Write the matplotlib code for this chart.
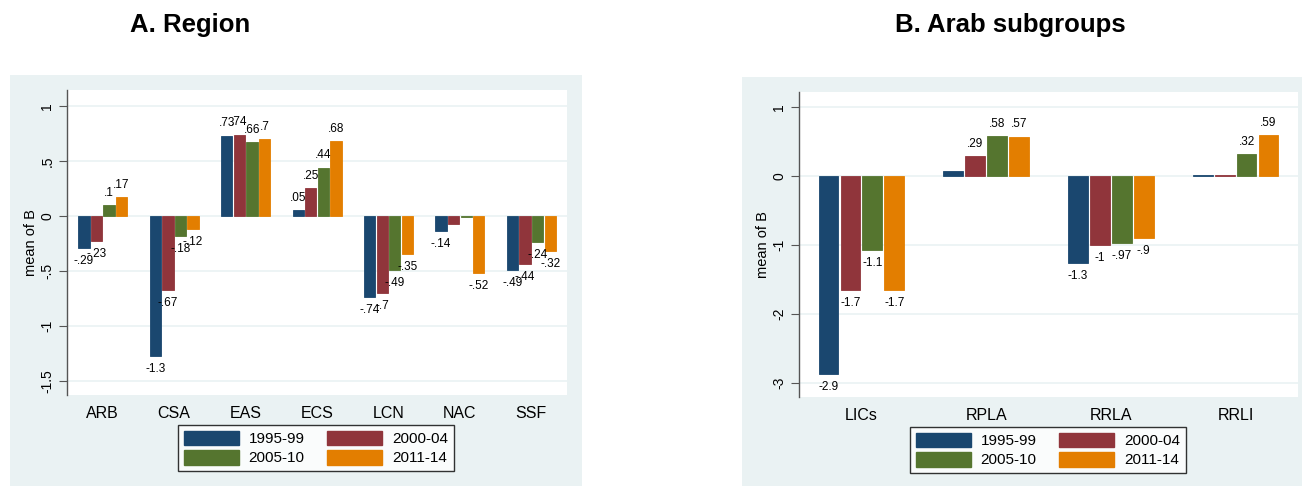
import matplotlib
matplotlib.use("Agg")
import matplotlib.pyplot as plt
from matplotlib.patches import Rectangle, Patch
import numpy as np

plt.rcParams['font.family'] = ['Liberation Sans', 'DejaVu Sans']

# data
periods = ["1995-99", "2000-04", "2005-10", "2011-14"]
colors = ["#1a476f", "#90353b", "#55752f", "#e37e00"]

region_cats = ["ARB", "CSA", "EAS", "ECS", "LCN", "NAC", "SSF"]
region_vals = [
    [-0.29, -1.27, 0.73, 0.055, -0.74, -0.14, -0.49],   # 1995-99
    [-0.23, -0.67, 0.74, 0.25, -0.70, -0.07, -0.44],    # 2000-04
    [0.10, -0.18, 0.67, 0.44, -0.49, -0.005, -0.24],    # 2005-10
    [0.17, -0.12, 0.70, 0.68, -0.35, -0.52, -0.32],     # 2011-14
]
region_labels = [
    ["-.29", "-1.3", ".73", ".05", "-.74", "-.14", "-.49"],
    ["-.23", "-.67", ".74", ".25", "-.7", "", "-.44"],
    [".1", "-.18", ".66", ".44", "-.49", "", "-.24"],
    [".17", "-.12", ".7", ".68", "-.35", "-.52", "-.32"],
]
region_ticks = [1, 0.5, 0, -0.5, -1, -1.5]
region_ticklabels = ["1", ".5", "0", "-.5", "-1", "-1.5"]

arab_cats = ["LICs", "RPLA", "RRLA", "RRLI"]
arab_vals = [
    [-2.87, 0.07, -1.26, 0.02],
    [-1.65, 0.29, -1.00, 0.02],
    [-1.07, 0.58, -0.97, 0.32],
    [-1.65, 0.57, -0.90, 0.59],
]
arab_labels = [
    ["-2.9", "", "-1.3", ""],
    ["-1.7", ".29", "-1", ""],
    ["-1.1", ".58", "-.97", ".32"],
    ["-1.7", ".57", "-.9", ".59"],
]
arab_ticks = [1, 0, -1, -2, -3]
arab_ticklabels = ["1", "0", "-1", "-2", "-3"]

W, H = 1306, 488
bg = "#eaf2f3"

fig = plt.figure(figsize=(W / 100, H / 100), dpi=100)


def px_rect(x0, y0, x1, y1):
    return [x0 / W, 1 - y1 / H, (x1 - x0) / W, (y1 - y0) / H]


# grey graph regions
for (x0, y0, x1, y1) in [(10, 75, 582, 486), (742, 77, 1302, 486)]:
    r = px_rect(x0, y0, x1, y1)
    fig.patches.append(Rectangle((r[0], r[1]), r[2], r[3], transform=fig.transFigure,
                                 facecolor=bg, edgecolor="none", zorder=-5))


def draw_panel(rect, cats, vals, labels, ticks, ticklabels, ylim, title, title_x, leg_center):
    ax = fig.add_axes(px_rect(*rect))
    ax.set_zorder(1)
    ax.set_facecolor("white")
    n = len(cats)
    x = np.arange(n)
    step = 0.176
    width = 0.158
    for i in range(4):
        xs = x + (i - 1.5) * step
        ax.bar(xs, vals[i], width=width, color=colors[i], edgecolor=colors[i],
               linewidth=0.6, zorder=3)
        for xx, v, lab in zip(xs, vals[i], labels[i]):
            if not lab:
                continue
            if v >= 0:
                ax.annotate(lab, (xx, v), xytext=(0, 4.5), textcoords="offset points",
                            ha="center", va="bottom", fontsize=8.5, zorder=4)
            else:
                ax.annotate(lab, (xx, v), xytext=(0, -5), textcoords="offset points",
                            ha="center", va="top", fontsize=8.5, zorder=4)
    ax.set_xlim(-0.5, n - 0.5)
    ax.set_ylim(*ylim)
    ax.set_xticks(x)
    ax.set_xticklabels(cats, fontsize=11.5)
    ax.tick_params(axis="x", length=0, pad=8)
    ax.set_yticks(ticks)
    ax.set_yticklabels(ticklabels, rotation=90, va="center", fontsize=10)
    ax.tick_params(axis="y", length=6, color="#555555", pad=3)
    ax.yaxis.grid(True, color=bg, linewidth=1.2, zorder=0)
    ax.set_axisbelow(True)
    for s in ["top", "right", "bottom"]:
        ax.spines[s].set_visible(False)
    ax.spines["left"].set_color("#555555")
    ax.spines["left"].set_linewidth(1)
    ax.set_ylabel("mean of B", fontsize=10.5, labelpad=2)
    fig.text(title_x / W, 1 - 25 / H, title, ha="center", va="center",
             fontsize=18.5, fontweight="bold")
    handles = [Patch(facecolor=colors[k], edgecolor=colors[k]) for k in [0, 2, 1, 3]]
    labs = [periods[k] for k in [0, 2, 1, 3]]
    leg = ax.legend(handles, labs, ncol=2, loc="center",
                    bbox_to_anchor=(leg_center[0] / W, 1 - leg_center[1] / H),
                    bbox_transform=fig.transFigure, frameon=True, fancybox=False,
                    edgecolor="black", fontsize=11, handlelength=3.6, handleheight=1.1,
                    columnspacing=1.5, labelspacing=0.25, borderpad=0.35,
                    handletextpad=0.65, borderaxespad=0)
    leg.get_frame().set_linewidth(1)
    return ax


draw_panel((67, 90, 567, 395), region_cats, region_vals, region_labels,
           region_ticks, region_ticklabels, (-1.627, 1.145), "A. Region", 190, (316, 448))
draw_panel((799, 92, 1298, 397), arab_cats, arab_vals, arab_labels,
           arab_ticks, arab_ticklabels, (-3.203, 1.217), "B. Arab subgroups", 1010, (1048, 450))

fig.savefig("out.png", dpi=100)
